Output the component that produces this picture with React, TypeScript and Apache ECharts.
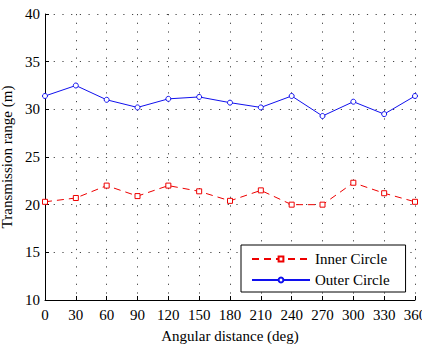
import React, { useEffect, useRef } from "react";
import * as echarts from "echarts";

const angles = [0, 30, 60, 90, 120, 150, 180, 210, 240, 270, 300, 330, 360];
const innerCircle = [20.3, 20.7, 22.0, 20.9, 22.0, 21.4, 20.4, 21.5, 20.0, 20.0, 22.3, 21.2, 20.3];
const outerCircle = [31.4, 32.5, 31.0, 30.2, 31.1, 31.3, 30.7, 30.2, 31.4, 29.3, 30.8, 29.5, 31.4];

const FONT = "'Liberation Serif', 'Times New Roman', serif";

export default function App() {
  const ref = useRef<HTMLDivElement>(null);

  useEffect(() => {
    if (!ref.current) return;
    const chart = echarts.init(ref.current, undefined, { renderer: "svg" });
    const gridDots = { show: true, lineStyle: { color: "#444", width: 1, type: [1.2, 7.5] as any } };
    chart.setOption({
      animation: false,
      backgroundColor: "#fff",
      textStyle: { fontFamily: FONT },
      grid: { left: 45, right: 7, top: 14, bottom: 44, containLabel: false, outerBoundsMode: "none" },
      legend: {
        orient: "vertical",
        left: 241,
        top: 245,
        width: 164,
        backgroundColor: "#fff",
        borderColor: "#000",
        borderWidth: 1,
        borderRadius: 0,
        padding: [5, 16, 3, 10],
        itemWidth: 58,
        itemHeight: 6,
        itemGap: 3,
        textStyle: { fontFamily: FONT, fontSize: 15, color: "#000", lineHeight: 18 },
        data: ["Inner Circle", "Outer Circle"],
      },
      xAxis: {
        type: "value",
        min: 0,
        max: 360,
        interval: 30,
        name: "Angular distance (deg)",
        nameLocation: "middle",
        nameGap: 28,
        nameTextStyle: { fontFamily: FONT, fontSize: 15, color: "#000" },
        axisLine: { show: true, onZero: false, lineStyle: { color: "#000", width: 1 } },
        axisTick: { show: true, inside: true, length: 4, lineStyle: { color: "#000" } },
        axisLabel: { fontFamily: FONT, fontSize: 15, color: "#000", margin: 7 },
        splitLine: gridDots,
      },
      yAxis: {
        type: "value",
        min: 10,
        max: 40,
        interval: 5,
        name: "Transmission range (m)",
        nameLocation: "middle",
        nameGap: 30,
        nameTextStyle: { fontFamily: FONT, fontSize: 15, color: "#000" },
        axisLine: { show: true, lineStyle: { color: "#000", width: 1 } },
        axisTick: { show: true, inside: true, length: 4, lineStyle: { color: "#000" } },
        axisLabel: { fontFamily: FONT, fontSize: 15, color: "#000", margin: 5 },
        splitLine: gridDots,
      },
      series: [
        {
          name: "Inner Circle",
          type: "line",
          data: angles.map((a, i) => [a, innerCircle[i]]),
          symbol: "rect",
          symbolSize: 5,
          showSymbol: true,
          lineStyle: { color: "#ee0000", width: 1, type: [7, 5] },
          itemStyle: { color: "#fff", borderColor: "#ee0000", borderWidth: 1 },
        },
        {
          name: "Outer Circle",
          type: "line",
          data: angles.map((a, i) => [a, outerCircle[i]]),
          symbol: "circle",
          symbolSize: 5,
          showSymbol: true,
          lineStyle: { color: "#1010ee", width: 1, type: "solid" },
          itemStyle: { color: "#fff", borderColor: "#1010ee", borderWidth: 1 },
        },
      ],
    });
    return () => chart.dispose();
  }, []);

  return (
    <div
      ref={ref}
      style={{ position: "absolute", left: 0, top: 0, width: 422, height: 344, background: "#fff" }}
    />
  );
}
